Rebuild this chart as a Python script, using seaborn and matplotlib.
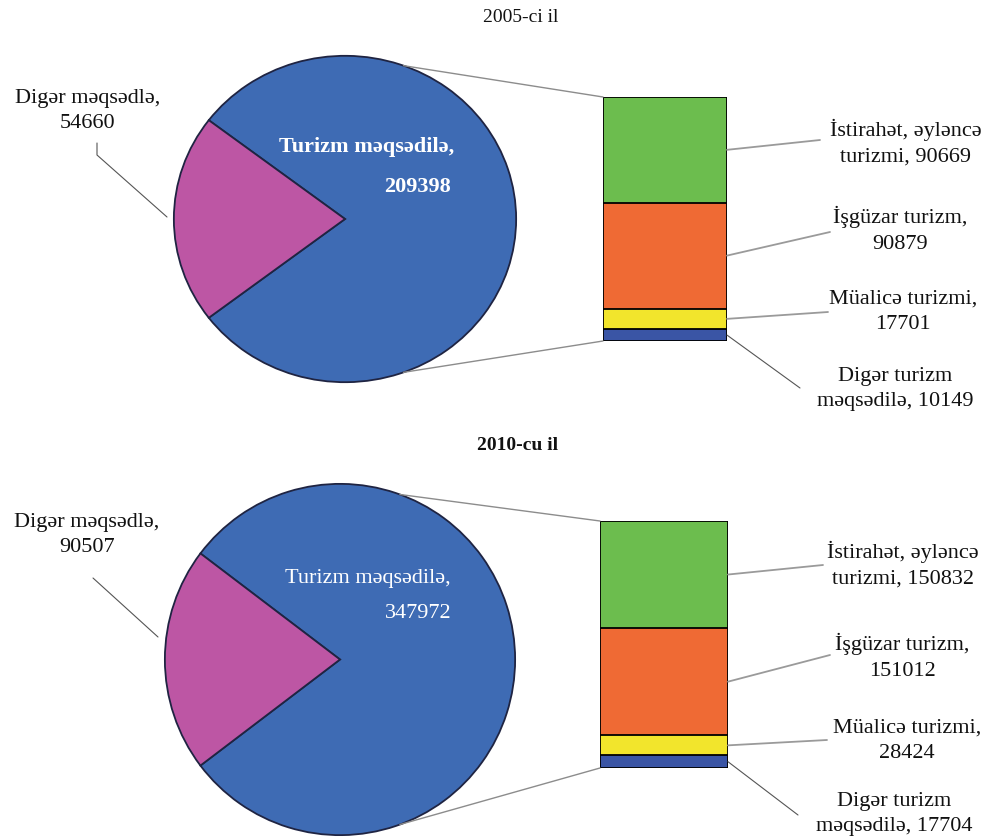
import matplotlib
matplotlib.use("Agg")
import numpy as np
import matplotlib.pyplot as plt
from matplotlib.patches import ConnectionPatch
import seaborn as sns

# Data
titles = ["2005-ci il", "2010-cu il"]
pie_names = ["Turizm məqsədilə", "Digər məqsədlə"]
pie_2005 = [209398, 54660]
pie_2010 = [347972, 90507]
# bar segments, bottom -> top
bar_names = ["Digər turizm məqsədilə", "Müalicə turizmi", "İşgüzar turizm",
             "İstirahət, əyləncə turizmi"]
bar_2005 = [10149, 17701, 90879, 90669]
bar_2010 = [17704, 28424, 151012, 150832]
bar_label_fmt = ["Digər turizm\nməqsədilə, {}", "Müalicə turizmi,\n{}",
                 "İşgüzar turizm,\n{}", "İstirahət, əyləncə\nturizmi, {}"]

sns.set_theme(style="white")
plt.rcParams['font.family'] = ['Liberation Serif', 'DejaVu Serif']

pie_colors = ["#3e6bb4", "#bd56a4"]
bar_colors = ["#3a55a5", "#f2e52c", "#ef6a34", "#6cbd4e"]
edge = "#1f2442"
FS = 16
LS = 1.45

W, H = 987, 840
fig = plt.figure(figsize=(W / 100, H / 100), dpi=100)


def box(x0, y0, x1, y1):
    return [x0 / W, 1 - y1 / H, (x1 - x0) / W, (y1 - y0) / H]


def fp(x, y):
    return (x / W, 1 - y / H)


# layout per panel (pixels)
layouts = [
    dict(pie=(173, 55, 517, 383), bar=(603, 97, 727, 341), title=(521, 18), bold_title=False,
         left_txt=(88, 111), left_line=[(97, 143), (97, 155), (167, 217)],
         in_txt=[(367, 147), (418, 187)], in_bold=True,
         lab_txt=[(895, 389), (903, 312), (900, 230), (906, 143)],
         lab_end=[(800, 388), (828, 312), (830, 232), (820, 140)]),
    dict(pie=(164, 483, 516, 836), bar=(600, 521, 728, 768), title=(518, 445), bold_title=True,
         left_txt=(87, 535), left_line=[(93, 578), (158, 637)],
         in_txt=[(368, 578), (418, 613)], in_bold=False,
         lab_txt=[(894, 814), (907, 741), (902, 657), (903, 565)],
         lab_end=[(798, 815), (827, 740), (830, 655), (823, 565)]),
]

for year, pie_vals, bar_vals, lay in zip(titles, [pie_2005, pie_2010], [bar_2005, bar_2010], layouts):
    # pie
    ax_p = fig.add_axes(box(*lay["pie"]))
    f = pie_vals[0] / sum(pie_vals)
    ax_p.pie(pie_vals, colors=pie_colors, startangle=-180 * f, counterclock=True,
             wedgeprops=dict(edgecolor=edge, linewidth=1.3))
    ax_p.set_xlim(-1.005, 1.005)
    ax_p.set_ylim(-1.005, 1.005)
    ax_p.set_aspect('auto')
    ax_p.axis('off')

    # stacked bar
    ax_b = fig.add_axes(box(*lay["bar"]))
    cum = np.cumsum(bar_vals)
    total = cum[-1]
    for i in range(len(bar_vals) - 1, -1, -1):
        sns.barplot(x=[0], y=[cum[i]], color=bar_colors[i], saturation=1, width=1,
                    edgecolor="black", linewidth=1.3, ax=ax_b)
    ax_b.set_xlim(-0.5, 0.5)
    ax_b.set_ylim(0, total)
    ax_b.axis('off')

    # connection lines pie -> bar
    ang = np.deg2rad(70)
    for sgn, yb in [(1, total), (-1, 0)]:
        con = ConnectionPatch(xyA=(np.cos(ang), sgn * np.sin(ang)), coordsA=ax_p.transData,
                              xyB=(-0.5, yb), coordsB=ax_b.transData,
                              color="#8c8c8c", lw=1.0)
        fig.add_artist(con)

    # bar labels with leader lines
    bottoms = cum - np.array(bar_vals)
    for i, v in enumerate(bar_vals):
        mid = bottoms[i] + v / 2
        ex, ey = lay["lab_end"][i]
        lc = "#555555" if i == 0 else "#9a9a9a"
        lw = 0.8 if i == 0 else 1.3
        ax_b.annotate("", xy=(0.5, mid), xycoords='data', xytext=fp(ex, ey),
                      textcoords='figure fraction',
                      arrowprops=dict(arrowstyle='-', color=lc, lw=lw,
                                      shrinkA=0, shrinkB=0))
        tx, ty = lay["lab_txt"][i]
        fig.text(*fp(tx, ty), bar_label_fmt[i].format(v), ha='center', va='center',
                 multialignment='center', fontsize=FS, linespacing=LS, color="#111111")

    # left label (other purposes)
    fig.text(*fp(*lay["left_txt"]), f"{pie_names[1]},\n{pie_vals[1]}", ha='center',
             va='center', multialignment='center', fontsize=FS, linespacing=LS,
             color="#111111")
    xs = [p[0] / W for p in lay["left_line"]]
    ys = [1 - p[1] / H for p in lay["left_line"]]
    fig.add_artist(plt.Line2D(xs, ys, color="#555555", lw=0.8, transform=fig.transFigure))

    # label inside pie
    wt = 'bold' if lay["in_bold"] else 'normal'
    fig.text(*fp(*lay["in_txt"][0]), f"{pie_names[0]},", ha='center', va='center',
             fontsize=FS, color="white", fontweight=wt)
    fig.text(*fp(*lay["in_txt"][1]), f"{pie_vals[0]}", ha='center', va='center',
             fontsize=FS, color="white", fontweight=wt)

    # title
    fig.text(*fp(*lay["title"]), year, ha='center', va='center', fontsize=14,
             fontweight='bold' if lay["bold_title"] else 'normal', color="#111111")

fig.savefig("out.png", dpi=100)
